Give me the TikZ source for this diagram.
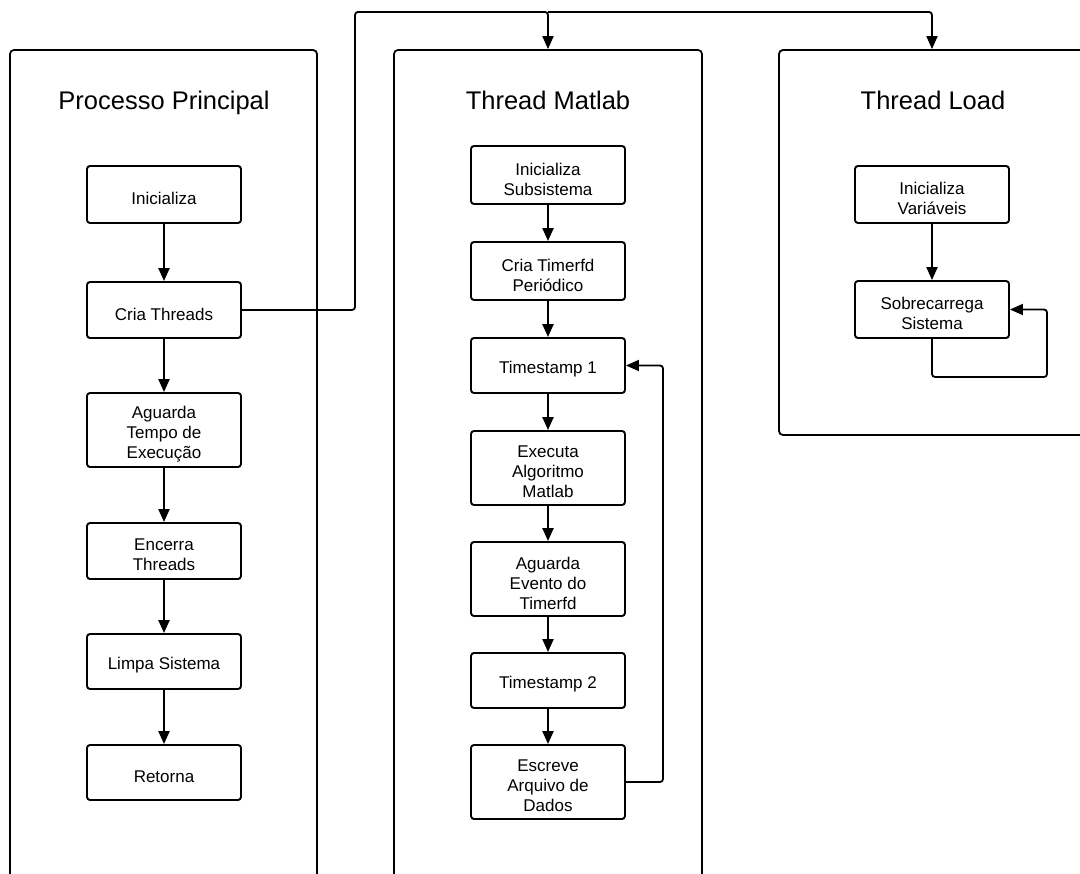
\documentclass[tikz,border=0pt]{standalone}
\usepackage{fontspec}
\setmainfont{Liberation Sans}
\usetikzlibrary{arrows.meta}
\tikzset{
  container/.style={draw, line width=1.8pt, rounded corners=4pt, inner sep=0pt},
  stepbox/.style={draw, line width=1.9pt, rounded corners=3pt, minimum width=154pt, inner sep=0pt},
  btext/.style={inner sep=0pt, align=center, yshift=-4pt, font=\fontsize{17}{20}\selectfont},
  ttl/.style={inner sep=0pt, anchor=base, font=\fontsize{25.5}{30}\selectfont},
  flow/.style={line width=2.2pt, -{Triangle[length=13pt,width=11pt]}},
  conn/.style={line width=1.8pt, rounded corners=3pt, -{Triangle[length=13pt,width=11pt]}},
}
\begin{document}
\begin{tikzpicture}[x=1pt,y=-1pt]
\useasboundingbox (0,0) rectangle (1080,874);
\clip (0,0) rectangle (1080,874);
% containers
\node[container, minimum width=307pt, minimum height=880pt] (c1) at (163.5,490) {};
\node[container, minimum width=308pt, minimum height=880pt] (c2) at (548,490) {};
\node[container, minimum width=306pt, minimum height=385pt] (c3) at (932,242.5) {};
% titles
\node[ttl] (t1) at (164,110) {Processo Principal};
\node[ttl] (t2) at (548,110) {Thread Matlab};
\node[ttl] (t3) at (933,109.5) {Thread Load};
% column 1
\node[stepbox, minimum height=57pt, label={[btext]center:Inicializa}] (ini1) at (164,194.5) {};
\node[stepbox, minimum height=56pt, label={[btext]center:Cria Threads}] (cria) at (164,310) {};
\node[stepbox, minimum height=74pt, label={[btext]center:{Aguarda\\Tempo de\\Execução}}] (agu) at (164,430) {};
\node[stepbox, minimum height=56pt, label={[btext]center:{Encerra\\Threads}}] (enc) at (164,551) {};
\node[stepbox, minimum height=55pt, label={[btext]center:Limpa Sistema}] (lim) at (164,661.5) {};
\node[stepbox, minimum height=55pt, label={[btext]center:Retorna}] (ret) at (164,772.5) {};
% column 2
\node[stepbox, minimum height=58pt, label={[btext]center:{Inicializa\\Subsistema}}] (ini2) at (548,175) {};
\node[stepbox, minimum height=58pt, label={[btext]center:{Cria Timerfd\\Periódico}}] (ctf) at (548,271) {};
\node[stepbox, minimum height=55pt, label={[btext]center:Timestamp 1}] (ts1) at (548,365.5) {};
\node[stepbox, minimum height=74pt, label={[btext]center:{Executa\\Algoritmo\\Matlab}}] (exe) at (548,468) {};
\node[stepbox, minimum height=74pt, label={[btext]center:{Aguarda\\Evento do\\Timerfd}}] (age) at (548,579) {};
\node[stepbox, minimum height=55pt, label={[btext]center:Timestamp 2}] (ts2) at (548,680.5) {};
\node[stepbox, minimum height=74pt, label={[btext]center:{Escreve\\Arquivo de\\Dados}}] (esc) at (548,782) {};
% column 3
\node[stepbox, minimum height=57pt, label={[btext]center:{Inicializa\\Variáveis}}] (iv) at (932,194.5) {};
\node[stepbox, minimum height=57pt, label={[btext]center:{Sobrecarrega\\Sistema}}] (sob) at (932,309.5) {};
% flows
\draw[flow] (ini1) -- (cria);
\draw[flow] (cria) -- (agu);
\draw[flow] (agu) -- (enc);
\draw[flow] (enc) -- (lim);
\draw[flow] (lim) -- (ret);
\draw[flow] (ini2) -- (ctf);
\draw[flow] (ctf) -- (ts1);
\draw[flow] (ts1) -- (exe);
\draw[flow] (exe) -- (age);
\draw[flow] (age) -- (ts2);
\draw[flow] (ts2) -- (esc);
\draw[flow] (iv) -- (sob);
% thread creation connectors
\coordinate (j1) at (355,12);
\coordinate (j2) at (548,12);
\draw[conn] (cria.east) -| (j1) -| (c2.north);
\draw[conn] (j2) -| (c3.north);
% loops
\coordinate (lm) at (663,782);
\draw[conn] (esc.east) -- (lm) |- (ts1.east);
\coordinate (ll) at (1047,377);
\draw[conn] (sob.south) |- (ll) |- (sob.east);
\end{tikzpicture}
\end{document}
